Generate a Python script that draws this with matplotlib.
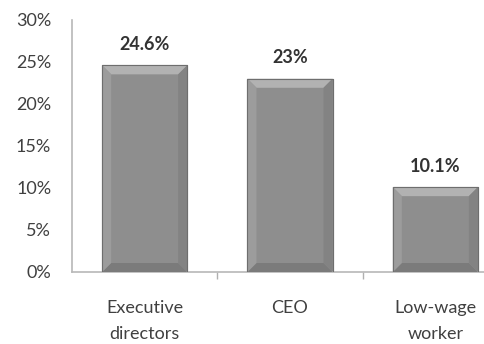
import matplotlib.pyplot as plt
from matplotlib.patches import Polygon

categories = ["Executive\ndirectors", "CEO", "Low-wage\nworker"]
values = [24.6, 23.0, 10.1]
value_labels = ["24.6%", "23%", "10.1%"]
yticks = [0, 5, 10, 15, 20, 25, 30]

plt.rcParams['font.family'] = ['Lato', 'DejaVu Sans']

fig = plt.figure(figsize=(4.85, 3.44), dpi=100)
# axes runs past the right edge of the figure on purpose
ax = fig.add_axes([72 / 485, 72 / 344, 436 / 485, 252 / 344])

x = list(range(len(values)))
bars = ax.bar(x, values, width=0.585, color='#8e8e8e', edgecolor='#727272',
              linewidth=0.8, zorder=2)

# bevelled look: light top, darker bottom and sides
bx = 9 / 145.3   # bevel width in data units
by = 9 / 8.4     # bevel height in data units
for b in bars:
    x0, w, h = b.get_x(), b.get_width(), b.get_height()
    x1 = x0 + w
    faces = [
        ([(x0, h), (x1, h), (x1 - bx, h - by), (x0 + bx, h - by)], '#b2b2b2'),
        ([(x0, 0), (x1, 0), (x1 - bx, by), (x0 + bx, by)], '#7b7b7b'),
        ([(x0, 0), (x0, h), (x0 + bx, h - by), (x0 + bx, by)], '#9c9c9c'),
        ([(x1, 0), (x1, h), (x1 - bx, h - by), (x1 - bx, by)], '#838383'),
    ]
    for pts, c in faces:
        ax.add_patch(Polygon(pts, closed=True, facecolor=c, edgecolor='none', zorder=3))
    ax.add_patch(Polygon([(x0, 0), (x0, h), (x1, h), (x1, 0)], closed=True,
                         fill=False, edgecolor='#6e6e6e', linewidth=0.8, zorder=4))

for xi, v, lab in zip(x, values, value_labels):
    ax.annotate(lab, (xi, v), xytext=(0, 9), textcoords='offset points',
                ha='center', va='bottom', fontsize=13, fontweight='bold', color='#333333')

ax.set_xlim(-0.5, 2.5)
ax.set_ylim(0, 30)
ax.set_yticks(yticks)
ax.set_yticklabels([f"{t}%" for t in yticks])
ax.set_xticks(x)
ax.set_xticklabels(categories, linespacing=1.75)
ax.set_xticks([0.5, 1.5], minor=True)

ax.tick_params(axis='y', length=0, pad=15, labelsize=13, labelcolor='#404040')
ax.tick_params(axis='x', which='major', length=0, pad=20, labelsize=13, labelcolor='#404040')
ax.tick_params(axis='x', which='minor', length=5, color='#b0b0b0', width=1)

for s in ['top', 'right']:
    ax.spines[s].set_visible(False)
for s in ['left', 'bottom']:
    ax.spines[s].set_color('#b8b8b8')
    ax.spines[s].set_linewidth(1.2)

fig.savefig("out.png", dpi=100)
